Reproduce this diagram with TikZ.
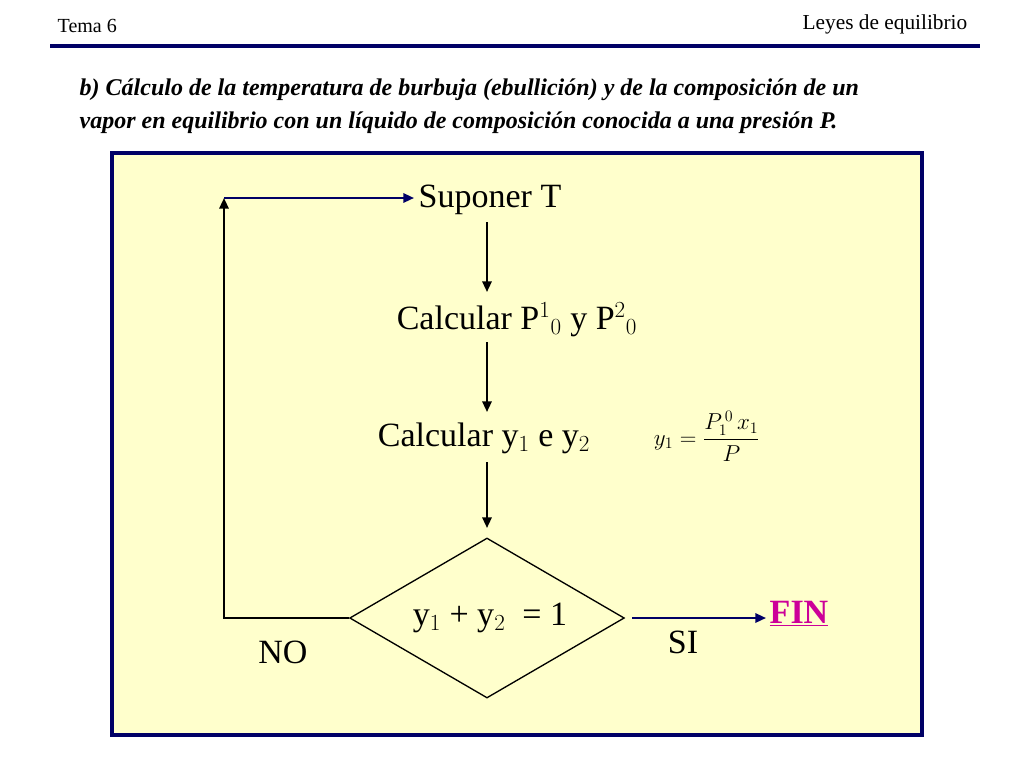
\documentclass[tikz,border=0pt]{standalone}
\usepackage{fontspec}
\setmainfont{Liberation Serif}
\usetikzlibrary{shapes.geometric,arrows.meta}
\definecolor{navy}{RGB}{0,0,102}
\definecolor{paleyellow}{RGB}{255,255,204}
\definecolor{finmagenta}{RGB}{204,0,153}
\tikzset{
  bigtext/.style={font=\fontsize{25.5}{30}\selectfont},
  flowarrow/.style={-{Triangle[length=8pt,width=7pt]},line width=1.6pt},
}
\begin{document}
\begin{tikzpicture}[x=0.75pt,y=-0.75pt]
        % Page and header
        \useasboundingbox (0,0) rectangle (1024,768);
        \fill[white] (0,0) rectangle (1024,768);
        \node[anchor=west,font=\fontsize{15}{17}\selectfont] (tema) at (53,26) {Tema 6};
        \node[anchor=east,font=\fontsize{16}{18}\selectfont] (leyes) at (972,24) {Leyes de equilibrio};
        \draw[navy,line width=3pt] (50,46) -- (980,46);
        \node[anchor=west,align=left,font=\fontsize{18}{24.75}\selectfont\bfseries\itshape] (intro) at (75,106)
            {b) Cálculo de la temperatura de burbuja (ebullición) y de la composición de un\\
             vapor en equilibrio con un líquido de composición conocida a una presión P.};

        % Frame
        \draw[navy,fill=paleyellow,line width=2.5pt] (112,153) rectangle (922,735);

        % Flow nodes
        \node[bigtext] (suponer) at (490,200) {Suponer T};
        \node[bigtext] (presion) at (517,320) {Calcular P$^1$$_0$ y P$^2$$_0$};
        \node[bigtext] (fracc) at (484,438) {Calcular y$_1$ e y$_2$};
        \node[font=\fontsize{17}{20}\selectfont] (formula) at (707,436) {$y_1=\displaystyle\frac{P_1^{\,0}\,x_1}{P}$};
        \node[draw,diamond,line width=1pt,inner sep=0pt,minimum width=206pt,minimum height=120pt] (test) at (487,618) {};
        \node[bigtext] (testtext) at (490,618) {y$_1$ + y$_2$ \ = 1};
        \node[bigtext] (fin) at (799,614) {\textcolor{finmagenta}{\bfseries\underline{FIN}}};
        \node[bigtext] (si) at (683,642) {SI};
        \node[bigtext] (no) at (283,652) {NO};
        \coordinate (corner) at (224,198);
        \coordinate (siend) at (766,618);

        % Connectors
        \draw[flowarrow] (487,222) -- (487,292);
        \draw[flowarrow] (487,342) -- (487,412);
        \draw[flowarrow] (487,462) -- (487,528);
        \draw[flowarrow] (test.west) -| (corner);
        \draw[flowarrow,navy] (corner) -- (suponer.west |- corner);
        \draw[flowarrow,navy] (632,618) -- (siend);
\end{tikzpicture}
\end{document}
